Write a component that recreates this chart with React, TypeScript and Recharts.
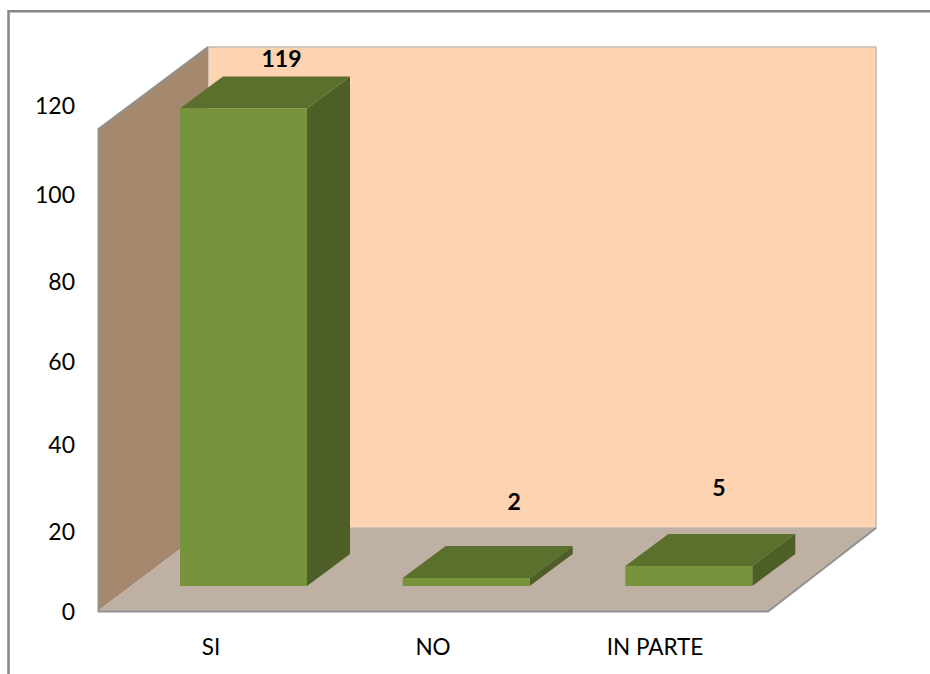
import { BarChart, Bar, XAxis, YAxis, LabelList } from 'recharts';

const categories = ['SI', 'NO', 'IN PARTE'];
const values = [119, 2, 5];
const yTicks = [0, 20, 40, 60, 80, 100, 120];

// hand nudges: the source picture does not space its labels evenly
const yTickNudge: Record<number, number> = { 0: 0, 20: 4, 40: 2, 60: 3, 80: 7, 100: 5, 120: 0 };
const labelNudge = [
  { dx: 38, dy: -50 },
  { dx: 48, dy: -77 },
  { dx: 30, dy: -79 },
];

const DEPTH_X = 43;
const DEPTH_Y = 32;
const FONT = 'Lato, sans-serif';

const data = categories.map((name, i) => ({ name, value: values[i] }));

function Box3D(props: any) {
  const { x, y, width, height } = props;
  const r = x + width;
  const b = y + height;
  return (
    <g>
      <polygon points={`${r},${y} ${r + DEPTH_X},${y - DEPTH_Y} ${r + DEPTH_X},${b - DEPTH_Y} ${r},${b}`} fill="#4D5F26" />
      <polygon points={`${x},${y} ${x + DEPTH_X},${y - DEPTH_Y} ${r + DEPTH_X},${y - DEPTH_Y} ${r},${y}`} fill="#5C702D" />
      <rect x={x} y={y} width={width} height={height} fill="#77933C" />
    </g>
  );
}

function YTick(props: any) {
  const { y, payload } = props;
  return (
    <text x={75} y={y + (yTickNudge[payload.value] || 0)} textAnchor="end" dominantBaseline="central" fontFamily={FONT} fontSize={23} fill="#000">
      {payload.value}
    </text>
  );
}

function XTick(props: any) {
  const { x, payload } = props;
  return (
    <text x={x} y={646} textAnchor="middle" dominantBaseline="central" fontFamily={FONT} fontSize={22.5} fill="#000">
      {payload.value}
    </text>
  );
}

function ValueLabel(props: any) {
  const { x, y, width, value, index } = props;
  const n = labelNudge[index];
  return (
    <text x={x + width / 2 + n.dx} y={y + n.dy} textAnchor="middle" dominantBaseline="central" fontFamily={FONT} fontWeight={700} fontSize={23} fill="#000">
      {value}
    </text>
  );
}

export default function App() {
  return (
    <div style={{ position: 'absolute', left: 0, top: 0, width: 930, height: 674, background: '#fff' }}>
      <BarChart width={930} height={674} data={data} margin={{ top: 105, right: 130, bottom: 0, left: 0 }} barSize={127}>
        {/* outer frame */}
        <polyline points="8.5,674 8.5,11.3 930,11.3" fill="none" stroke="#868686" strokeWidth={2.5} />
        {/* walls and floor */}
        <polygon points="208,47 876,47 876,528 208,528" fill="#FDD3B1" stroke="#C4BDB6" strokeWidth={1.5} />
        <polygon points="98,129 208,47 208,528 98,611" fill="#A5896F" />
        <polygon points="98,611 208,528 876,528 768,611" fill="#BEB1A3" />
        <polyline points="208,47 98.5,129 98.5,611.5 768,611.5 876,528" fill="none" stroke="#919191" strokeWidth={2} />
        <XAxis xAxisId="labels" dataKey="name" height={63} axisLine={false} tickLine={false} padding={{ left: 2, right: 34 }} tick={<XTick />} />
        <XAxis xAxisId="bars" dataKey="name" hide padding={{ left: 34, right: 0 }} />
        <YAxis yAxisId="labels" width={98} domain={[0, 120]} ticks={yTicks} axisLine={false} tickLine={false} tick={<YTick />} interval={0} />
        <YAxis yAxisId="bars" hide domain={[-6.23, 119.87]} />
        {/* empty series so the label axis has something to scale */}
        <Bar dataKey="value" xAxisId="labels" yAxisId="labels" shape={() => null} isAnimationActive={false} />
        <Bar dataKey="value" xAxisId="bars" yAxisId="bars" shape={<Box3D />} isAnimationActive={false}>
          <LabelList dataKey="value" content={<ValueLabel />} />
        </Bar>
      </BarChart>
    </div>
  );
}
